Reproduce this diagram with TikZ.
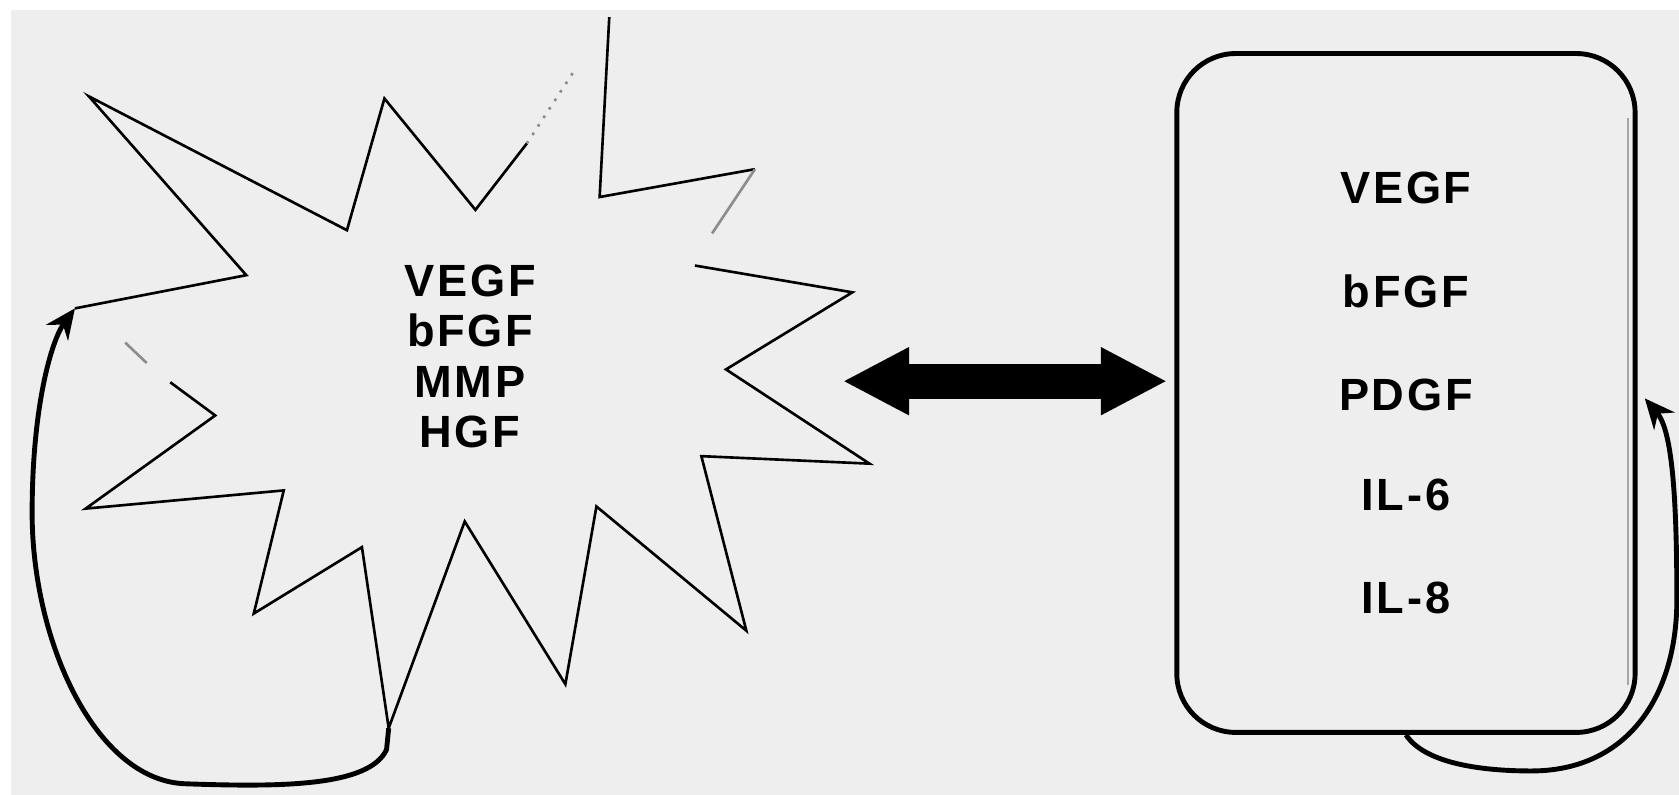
\documentclass[tikz,border=0pt]{standalone}
\usepackage{fontspec}
\setmainfont{Liberation Sans}
\newfontfamily\factorfont[LetterSpace=6]{Liberation Sans}
\usetikzlibrary{arrows.meta}
\definecolor{bggray}{HTML}{EEEEEE}
\tikzset{
  outline/.style={line width=0.7pt, line join=miter},
  faint/.style={line width=0.7pt, black!45},
  loop/.style={line width=1.3pt, -{Stealth[length=2.8mm,width=2.5mm]}},
  factor/.style={anchor=base, inner sep=0pt, font=\factorfont\fontsize{12}{14}\selectfont\bfseries},
  bigarrow/.style={line width=3.3mm, {Triangle[length=6.2mm,width=5.9mm]}-{Triangle[length=6.2mm,width=5.9mm]}},
  cellbox/.style={draw, line width=1.3pt, rounded corners=5.5mm, minimum width=42.8mm, minimum height=63.4mm}
}
\begin{document}
\begin{tikzpicture}[x=0.1mm,y=-0.1mm]
\useasboundingbox (0,0) rectangle (1568,742);
\fill[white] (0,0) rectangle (1568,742);
\fill[bggray] (10,9) rectangle (1568,742);

% burst
\draw[outline] (70,288) -- (230,257) -- (83,90) -- (324,215) -- (359,92) -- (444,196) -- (492,134);
\draw[faint, dotted] (492,134) -- (537,65);
\draw[outline] (569,16) -- (560,184) -- (705,158);
\draw[faint] (705,158) -- (665,218);
\draw[outline] (649,248) -- (796,273) -- (678,345) -- (812,433) -- (655,426) -- (697,589)
  -- (557,473) -- (528,639) -- (434,487) -- (363,680) -- (338,511) -- (237,573) -- (265,458)
  -- (80,475) -- (201,388) -- (159,357);
\draw[faint] (137,339) -- (117,320);
\coordinate (sbot) at (363,680);
\coordinate (stip) at (70,288);

\node[factor] (svegf) at (439,277) {VEGF};
\node[factor] (sbfgf) at (439,324) {bFGF};
\node[factor] (smmp) at (439,371) {MMP};
\node[factor] (shgf) at (439,418) {HGF};

% box
\node[cellbox] (box) at (1313,367) {};
\draw[black!35, line width=0.5pt] (1520,110) -- (1520,640);
\node[factor] (bvegf) at (1313,190) {VEGF};
\node[factor] (bbfgf) at (1313,287) {bFGF};
\node[factor] (bpdgf) at (1313,383) {PDGF};
\node[factor] (bil6) at (1313,477) {IL-6};
\node[factor] (bil8) at (1313,573) {IL-8};

% arrows
\coordinate (arrowL) at (787,356);
\coordinate (arrowR) at (1090,356);
\draw[bigarrow] (arrowL) -- (arrowR);

\draw[loop] (sbot) -- (361,700) .. controls (345,735) and (260,735) .. (174,732)
  .. controls (90,730) and (30,600) .. (30,479)
  .. controls (30,380) and (48,318) .. (stip);

\coordinate (rtip) at (1536,372);
\draw[loop] (box.south) .. controls (1330,712) and (1380,720) .. (1430,720)
  .. controls (1520,720) and (1566,650) .. (1566,560)
  .. controls (1566,450) and (1560,400) .. (rtip);
\end{tikzpicture}
\end{document}
